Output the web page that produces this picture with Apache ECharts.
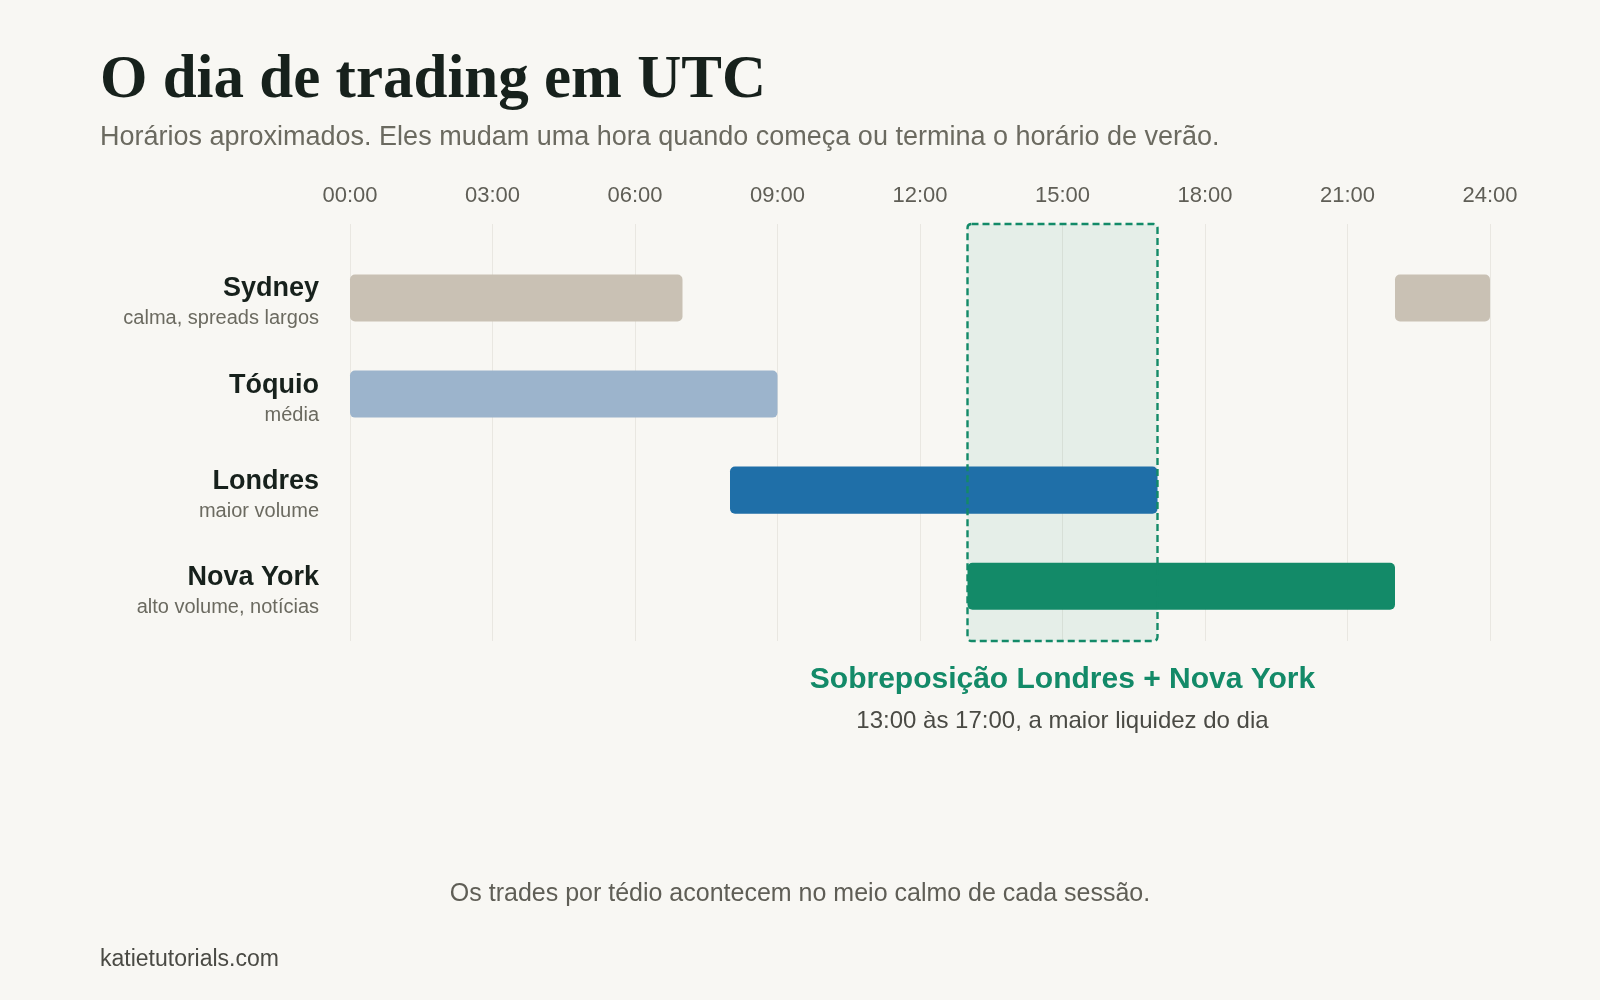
<!DOCTYPE html>
<html lang="pt">
<head>
  <meta charset="UTF-8">
  <title>O dia de trading em UTC</title>
  <script src="https://cdn.jsdelivr.net/npm/echarts@6.0.0/dist/echarts.min.js"></script>
  <style>
    html, body { margin: 0; padding: 0; background: #f8f7f3; }
    #main { width: 1600px; height: 1000px; }
  </style>
</head>
<body>
<div id="main"></div>
<script type="text/javascript">

  // sessões (linhas do gráfico)
  const sessionNames = ['Sydney', 'Tóquio', 'Londres', 'Nova York'];
  const sessionNotes = ['calma, spreads largos', 'média', 'maior volume', 'alto volume, notícias'];

  // blocos de horário em UTC: linha, início, fim (Sydney atravessa a meia-noite)
  const blockRow   = [0, 0, 1, 2, 3];
  const blockStart = [0, 22, 0, 8, 13];
  const blockEnd   = [7, 24, 9, 17, 22];

  // sobreposição Londres + Nova York
  const overlapStart = 13;
  const overlapEnd = 17;

  const hourTicks = [0, 3, 6, 9, 12, 15, 18, 21, 24];

  // cores por linha
  const rowColors = ['#c9c1b4', '#9cb4cc', '#1f6fa8', '#138a68'];

  const green = '#138a68';
  const sans = 'Liberation Sans, Arial, sans-serif';

  var myChart = echarts.init(document.getElementById('main'));

  const blocks = blockRow.map((r, i) => [blockStart[i], blockEnd[i], r]);

  function pad(h) {
    return (h < 10 ? '0' : '') + h + ':00';
  }

  function overlapRect(params, api, withFill) {
    const cs = params.coordSys;
    const x0 = api.coord([api.value(0), 0])[0];
    const x1 = api.coord([api.value(1), 0])[0];
    return {
      type: 'rect',
      shape: {x: x0, y: cs.y, width: x1 - x0, height: cs.height, r: 4},
      style: withFill
        ? {fill: 'rgba(19,138,104,0.08)', stroke: null}
        : {fill: null, stroke: green, lineWidth: 2.4, lineDash: [7, 4]}
    };
  }

  myChart.setOption({
    backgroundColor: '#f8f7f3',
    animation: false,
    title: [
      {
        text: 'O dia de trading em UTC',
        left: 100, top: 51, padding: 0,
        textStyle: {fontFamily: 'Liberation Serif, serif', fontWeight: 'bold', fontSize: 61, color: '#17211c'}
      },
      {
        text: 'Horários aproximados. Eles mudam uma hora quando começa ou termina o horário de verão.',
        left: 100, top: 124, padding: 0,
        textStyle: {fontFamily: sans, fontWeight: 'normal', fontSize: 27, color: '#6b6a60'}
      },
      {
        text: 'Os trades por tédio acontecem no meio calmo de cada sessão.',
        left: 'center', top: 882, padding: 0,
        textStyle: {fontFamily: sans, fontWeight: 'normal', fontSize: 25, color: '#5f5e56'}
      },
      {
        text: 'katietutorials.com',
        left: 100, top: 948, padding: 0,
        textStyle: {fontFamily: sans, fontWeight: 'normal', fontSize: 23, color: '#4a4a44'}
      }
    ],
    grid: {left: 350, right: 110, top: 224, bottom: 359},
    xAxis: {
      type: 'value',
      position: 'top',
      min: 0,
      max: 24,
      interval: 3,
      axisLine: {show: false},
      axisTick: {show: false},
      axisLabel: {
        margin: 17,
        fontFamily: sans,
        fontSize: 22,
        color: '#5f5e56',
        customValues: hourTicks,
        formatter: v => pad(v)
      },
      splitLine: {show: true, lineStyle: {color: '#e9e7e1', width: 1}}
    },
    yAxis: {
      type: 'value',
      inverse: true,
      min: -0.77,
      max: 3.57,
      axisLine: {show: false},
      axisTick: {show: false},
      splitLine: {show: false},
      axisLabel: {
        customValues: [0, 1, 2, 3],
        margin: 31,
        align: 'right',
        padding: [12, 0, 0, 0],
        formatter: v => '{n|' + sessionNames[v] + '}\n{s|' + sessionNotes[v] + '}',
        rich: {
          n: {fontFamily: sans, fontWeight: 'bold', fontSize: 27, lineHeight: 30, color: '#17211c', align: 'right'},
          s: {fontFamily: sans, fontSize: 20, lineHeight: 30, color: '#6b6a60', align: 'right'}
        }
      }
    },
    series: [
      {
        name: 'faixa',
        type: 'custom',
        z: 1,
        silent: true,
        data: [[overlapStart, overlapEnd]],
        renderItem: (params, api) => overlapRect(params, api, true)
      },
      {
        name: 'sessões',
        type: 'custom',
        z: 5,
        data: blocks,
        encode: {x: [0, 1], y: 2},
        renderItem: function (params, api) {
          const row = api.value(2);
          const p0 = api.coord([api.value(0), row]);
          const p1 = api.coord([api.value(1), row]);
          const h = api.size([0, 0.49])[1];
          return {
            type: 'rect',
            shape: {x: p0[0], y: p0[1] - h / 2, width: p1[0] - p0[0], height: h, r: 5},
            style: {fill: rowColors[row]}
          };
        }
      },
      {
        name: 'borda',
        type: 'custom',
        z: 10,
        silent: true,
        data: [[overlapStart, overlapEnd]],
        renderItem: (params, api) => overlapRect(params, api, false)
      },
      {
        name: 'nota',
        type: 'custom',
        z: 10,
        silent: true,
        data: [[overlapStart, overlapEnd]],
        renderItem: function (params, api) {
          const cs = params.coordSys;
          const mid = api.coord([(api.value(0) + api.value(1)) / 2, 0])[0];
          const bottom = cs.y + cs.height;
          return {
            type: 'group',
            children: [
              {
                type: 'text',
                style: {
                  x: mid, y: bottom + 39,
                  text: 'Sobreposição Londres + Nova York',
                  align: 'center', verticalAlign: 'middle',
                  font: 'bold 30px ' + sans,
                  fill: green
                }
              },
              {
                type: 'text',
                style: {
                  x: mid, y: bottom + 80,
                  text: pad(api.value(0)) + ' às ' + pad(api.value(1)) + ', a maior liquidez do dia',
                  align: 'center', verticalAlign: 'middle',
                  font: '24px ' + sans,
                  fill: '#4a4a44'
                }
              }
            ]
          };
        }
      }
    ]
  });

</script>
</body>
</html>
